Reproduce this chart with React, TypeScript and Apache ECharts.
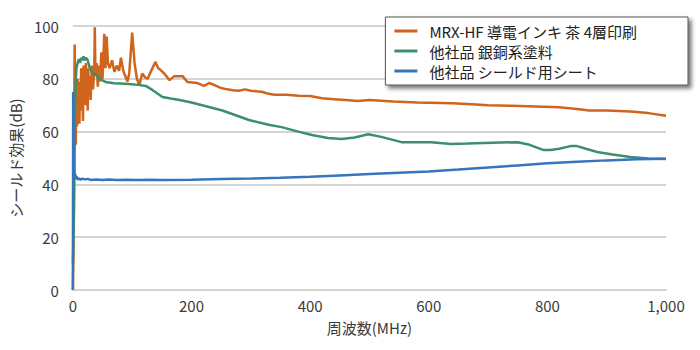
import React, { useEffect, useRef } from "react";
import * as echarts from "echarts";

const seriesNames = ["MRX-HF 導電インキ 茶 4層印刷", "他社品 銀銅系塗料", "他社品 シールド用シート"];
const seriesColors = ["#D0641C", "#3C8F6A", "#3575BE"];

const freqA = [0,1,2,3,4,5,6,7,8,9,10,11,12,13,14,15,16,17,18,19,20,21,22,23,24,25,26,27,28,30,32,34,36,37,38,40,42,44,46,48,50,53,55,57,59,62,66,70,74,78,81,85,89,92,95,100,104,108,112,117,122,126,132,139,144,148,154,163,171,185,193,210,221,230,240,250,260,270,280,290,300,320,330,340,360,380,400,420,440,460,480,500,520,540,560,580,600,640,680,700,740,780,820,850,870,900,940,970,1000];
const valA = [0,15,55,93,72,55,78,62,80,66,74,63,79,68,84,70,76,64,85,72,80,70,86,74,79,68,84,75,81,72,85,76,83,99.5,82,86,77,85,79,90,80,97,84,96,86,84,87,82.6,85,83,88,83,80.7,79,82,97.5,86,80,77.6,82,80.5,80,83,86.4,84,83.3,82,79.5,81,81,78.8,78.4,77.3,78.4,77.5,76.5,76,75.7,75.5,76,75.5,75,74.3,74,74,73.6,73.5,72.6,72.3,72,71.6,72,71.7,71.4,71.2,71,70.9,70.7,70.3,70,69.8,69.5,69.2,68.6,68,68,67.6,67,66];

const freqB = [0,1,2,3,4,5,6,8,10,12,14,16,18,20,22,25,28,32,39,45,55,70,95,110,123,134,142,151,165,180,200,218,252,297,330,352,380,403,430,453,475,498,520,554,580,604,638,666,693,750,770,794,805,820,839,850,865,884,910,940,970,1000];
const valB = [10,10,30,55,72,80,84,86,87.5,86,88,87,88.5,87,88,87,84.5,82.5,81.4,80,78.8,78.3,78,77.7,77.3,75.8,74.5,73.1,72.5,72,71,70,68,64.4,62.6,61.7,60,58.7,57.6,57.2,57.8,59,58,56,56,56,55.3,55.5,55.7,56,55,53,53,53.5,54.5,54.5,53.5,52.3,51.3,50.4,49.8,49.6];

const freqC = [0,0.5,1,1.5,2,3,4,5,6,8,10,13,16,20,25,30,40,50,60,75,90,110,130,150,200,250,300,350,400,450,500,550,600,650,700,750,800,850,900,950,1000];
const valC = [0,75,62,52,46,43,44,42,43,41.8,42.3,41.8,42.2,41.9,42.1,41.7,41.9,41.7,41.9,41.7,41.8,41.7,41.8,41.7,41.8,42,42.2,42.5,42.9,43.4,43.9,44.4,44.9,45.6,46.4,47.2,48,48.6,49.1,49.5,49.7];

const xTicks = [0, 200, 400, 600, 800, 1000];
const yTicks = [0, 20, 40, 60, 80, 100];

const FONT = "'Noto Sans CJK JP', 'Noto Sans', sans-serif";

export default function App() {
  const ref = useRef<HTMLDivElement>(null);
  useEffect(() => {
    if (!ref.current) return;
    const chart = echarts.init(ref.current, undefined, { renderer: "svg" });
    const pairs = (f: number[], v: number[]) => f.map((x, i) => [x, v[i]]);
    const datasets = [pairs(freqA, valA), pairs(freqB, valB), pairs(freqC, valC)];
    chart.setOption({
      animation: false,
      textStyle: { fontFamily: FONT },
      grid: { left: 70, right: 34, top: 26, bottom: 60, containLabel: false },
      legend: {
        orient: "vertical",
        top: 17,
        right: 12,
        data: seriesNames,
        icon: "rect",
        itemWidth: 23,
        itemHeight: 3,
        itemGap: 2,
        padding: [5, 51, 5, 9],
        backgroundColor: "#ffffff",
        borderColor: "#555555",
        borderWidth: 1,
        shadowColor: "rgba(0,0,0,0.55)",
        shadowBlur: 4,
        shadowOffsetX: 3,
        shadowOffsetY: 3,
        textStyle: { fontSize: 15, color: "#222", fontFamily: FONT, lineHeight: 18, padding: [0, 0, 0, 7] },
      },
      xAxis: {
        type: "value",
        min: xTicks[0],
        max: xTicks[xTicks.length - 1],
        interval: 200,
        name: "周波数(MHz)",
        nameLocation: "middle",
        nameGap: 30,
        nameTextStyle: { fontSize: 15, color: "#3a3a3a", fontFamily: FONT },
        axisLine: { show: true, lineStyle: { color: "#d4d4d4", width: 2 } },
        axisTick: { show: false },
        splitLine: { show: false },
        axisLabel: {
          fontSize: 15,
          color: "#3a3a3a",
          margin: 8,
          formatter: (v: number) => v.toLocaleString("en-US"),
        },
      },
      yAxis: {
        type: "value",
        min: yTicks[0],
        max: yTicks[yTicks.length - 1],
        interval: 20,
        name: "シールド効果(dB)",
        nameLocation: "middle",
        nameGap: 42,
        nameTextStyle: { fontSize: 15, color: "#3a3a3a", fontFamily: FONT },
        axisLine: { show: false },
        axisTick: { show: false },
        splitLine: { show: true, lineStyle: { color: "#d4d4d4", width: 2 } },
        axisLabel: { fontSize: 15, color: "#3a3a3a", margin: 14 },
      },
      series: seriesNames.map((name, i) => ({
        name,
        type: "line",
        data: datasets[i],
        showSymbol: false,
        symbol: "none",
        color: seriesColors[i],
        lineStyle: { width: 2.5, color: seriesColors[i] },
      })),
    });
    return () => chart.dispose();
  }, []);
  return <div ref={ref} style={{ width: 700, height: 350, position: "absolute", left: 0, top: 0 }} />;
}
